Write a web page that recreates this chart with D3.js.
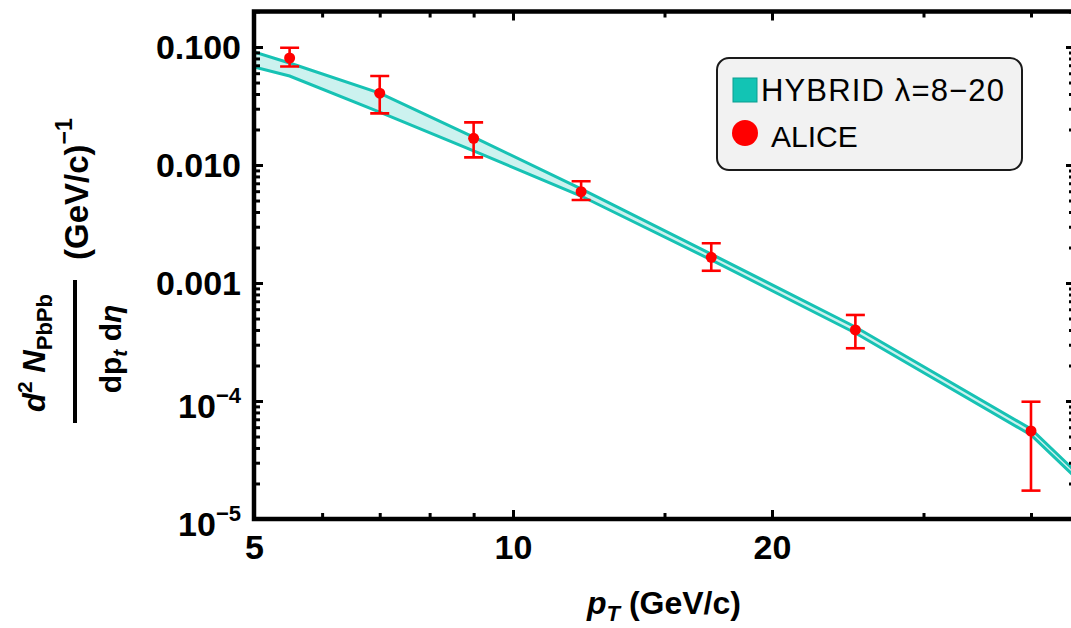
<!DOCTYPE html>
<html>
<head>
<meta charset="utf-8">
<script src="https://cdn.jsdelivr.net/npm/d3@7"></script>
<style>
  body { margin: 0; background: #ffffff; }
  svg { display: block; }
  text { font-family: "Liberation Sans", Arial, Helvetica, sans-serif; }
</style>
</head>
<body>
<svg id="chart" width="1071" height="628"></svg>
<script>
// HYBRID model band (lambda = 8-20): upper and lower edges at each pT node
const ptNodes     = [5, 5.5, 7, 9, 12, 17, 25, 40, 45];
const hybridUpper = [0.0907, 0.0732, 0.0407, 0.01726, 0.00627, 0.00176, 0.000424, 5.79e-5, 2.55e-5];
const hybridLower = [0.0677, 0.0568, 0.0281, 0.01315, 0.00546, 0.00157, 0.000377, 5.15e-5, 2.27e-5];

// ALICE measurement: bin centres, central values, error bar ends
const alicePt    = [5.5, 7, 9, 12, 17, 25, 40];
const aliceYield = [0.0807, 0.0406, 0.01683, 0.00594, 0.00165, 0.000400, 5.57e-5];
const aliceHigh  = [0.0987, 0.0568, 0.0230, 0.00728, 0.00217, 0.000536, 9.86e-5];
const aliceLow   = [0.0683, 0.0274, 0.01161, 0.00505, 0.00127, 0.000280, 1.74e-5];

// Axis ticks
const xMajorTicks  = [5, 10, 20];
const xTickLabels  = ["5", "10", "20"];
const xMinorTicks  = [6, 7, 8, 9, 15, 30, 40];
const yMajorTicks  = [0.1, 0.01, 0.001, 1e-4, 1e-5];
const yTickLabels  = [["0.100"], ["0.010"], ["0.001"], ["10", "\u22124"], ["10", "\u22125"]];

const legendLabels = ["HYBRID \u03bb=8\u221220", "ALICE"];

const bandStroke = "#17c2b4";
const bandFill   = "rgba(23,194,180,0.22)";
const dataRed    = "#ff0000";

const svg = d3.select("#chart");
const plot = { left: 254, top: 11.5, right: 1075, bottom: 519 };

const x = d3.scaleLog().domain([5, 45]).range([plot.left, plot.right]);
const y = d3.scaleLog().domain([1e-5, 0.2]).range([plot.bottom, plot.top]);

svg.append("clipPath").attr("id", "plot-clip")
  .append("rect")
  .attr("x", plot.left).attr("y", plot.top)
  .attr("width", plot.right - plot.left).attr("height", plot.bottom - plot.top);

// Model band
const bandData = ptNodes.map((p, i) => ({ p, hi: hybridUpper[i], lo: hybridLower[i] }));
const g = svg.append("g").attr("clip-path", "url(#plot-clip)");
g.append("path")
  .datum(bandData)
  .attr("d", d3.area().x(d => x(d.p)).y0(d => y(d.lo)).y1(d => y(d.hi)))
  .attr("fill", bandFill);
["hi", "lo"].forEach(k => {
  g.append("path")
    .datum(bandData)
    .attr("d", d3.line().x(d => x(d.p)).y(d => y(d[k])))
    .attr("fill", "none")
    .attr("stroke", bandStroke)
    .attr("stroke-width", 3);
});

// ALICE points with error bars
const alice = alicePt.map((p, i) => ({ p, v: aliceYield[i], hi: aliceHigh[i], lo: aliceLow[i] }));
const capHalf = 9.5;
const pts = g.selectAll("g.alice").data(alice).join("g").attr("class", "alice");
pts.append("line")
  .attr("x1", d => x(d.p)).attr("x2", d => x(d.p))
  .attr("y1", d => y(d.hi)).attr("y2", d => y(d.lo))
  .attr("stroke", dataRed).attr("stroke-width", 2.6);
pts.append("line")
  .attr("x1", d => x(d.p) - capHalf).attr("x2", d => x(d.p) + capHalf)
  .attr("y1", d => y(d.hi)).attr("y2", d => y(d.hi))
  .attr("stroke", dataRed).attr("stroke-width", 2.6);
pts.append("line")
  .attr("x1", d => x(d.p) - capHalf).attr("x2", d => x(d.p) + capHalf)
  .attr("y1", d => y(d.lo)).attr("y2", d => y(d.lo))
  .attr("stroke", dataRed).attr("stroke-width", 2.6);
pts.append("circle")
  .attr("cx", d => x(d.p)).attr("cy", d => y(d.v)).attr("r", 5.5)
  .attr("fill", dataRed);

// Minor y ticks: 2..9 within each decade
const yMinorTicks = [];
[1e-5, 1e-4, 1e-3, 1e-2, 1e-1].forEach(dec => {
  for (let k = 2; k <= 9; k++) if (k * dec <= 0.2 + 1e-12) yMinorTicks.push(k * dec);
});

function styleAxis(sel) {
  sel.select(".domain").remove();
  sel.selectAll(".tick line").attr("stroke", "#000").attr("stroke-width", 3);
}

const majorLen = 9, minorLen = 6;
const tickFont = 34;

// Left axis (ticks pointing inward)
const leftMajor = svg.append("g").attr("transform", `translate(${plot.left},0)`)
  .call(d3.axisLeft(y).tickValues(yMajorTicks).tickSizeInner(-majorLen).tickSizeOuter(0)
        .tickPadding(13).tickFormat(() => ""))
  .call(styleAxis);
leftMajor.selectAll(".tick text").each(function (d, i) {
  const t = d3.select(this)
    .attr("font-size", tickFont).attr("font-weight", "bold").attr("fill", "#000")
    .attr("dy", null).attr("y", 11.5);
  const parts = yTickLabels[i];
  if (parts.length === 1) {
    t.text(parts[0]);
  } else {
    t.attr("y", 16);
    t.append("tspan").text(parts[0]);
    t.append("tspan").attr("font-size", 22).attr("dy", -15).text(parts[1]);
  }
});
svg.append("g").attr("transform", `translate(${plot.left},0)`)
  .call(d3.axisLeft(y).tickValues(yMinorTicks).tickSizeInner(-minorLen).tickSizeOuter(0).tickFormat(() => ""))
  .call(styleAxis);

// Right axis
svg.append("g").attr("transform", `translate(${plot.right},0)`)
  .call(d3.axisRight(y).tickValues(yMajorTicks).tickSizeInner(-majorLen).tickSizeOuter(0).tickFormat(() => ""))
  .call(styleAxis);
svg.append("g").attr("transform", `translate(${plot.right},0)`)
  .call(d3.axisRight(y).tickValues(yMinorTicks).tickSizeInner(-minorLen).tickSizeOuter(0).tickFormat(() => ""))
  .call(styleAxis);

// Bottom axis
const bottomMajor = svg.append("g").attr("transform", `translate(0,${plot.bottom})`)
  .call(d3.axisBottom(x).tickValues(xMajorTicks).tickSizeInner(-majorLen).tickSizeOuter(0)
        .tickPadding(16).tickFormat((d, i) => xTickLabels[i]))
  .call(styleAxis);
bottomMajor.selectAll(".tick text")
  .attr("font-size", tickFont).attr("font-weight", "bold").attr("fill", "#000");
svg.append("g").attr("transform", `translate(0,${plot.bottom})`)
  .call(d3.axisBottom(x).tickValues(xMinorTicks).tickSizeInner(-minorLen).tickSizeOuter(0).tickFormat(() => ""))
  .call(styleAxis);

// Top axis
svg.append("g").attr("transform", `translate(0,${plot.top})`)
  .call(d3.axisTop(x).tickValues(xMajorTicks).tickSizeInner(-majorLen).tickSizeOuter(0).tickFormat(() => ""))
  .call(styleAxis);
svg.append("g").attr("transform", `translate(0,${plot.top})`)
  .call(d3.axisTop(x).tickValues(xMinorTicks).tickSizeInner(-minorLen).tickSizeOuter(0).tickFormat(() => ""))
  .call(styleAxis);

// Frame
svg.append("rect")
  .attr("x", plot.left).attr("y", plot.top)
  .attr("width", plot.right - plot.left).attr("height", plot.bottom - plot.top)
  .attr("fill", "none").attr("stroke", "#000").attr("stroke-width", 4.5);

// X axis title
const xt = svg.append("text")
  .attr("x", 664).attr("y", 614)
  .attr("text-anchor", "middle").attr("font-size", 32).attr("font-weight", "bold").attr("fill", "#000");
xt.append("tspan").attr("font-style", "italic").text("p");
xt.append("tspan").attr("font-style", "italic").attr("font-size", 22).attr("dy", 7).text("T");
xt.append("tspan").attr("dy", -7).text(" (GeV/c)");

// Y axis title: fraction with units
const yt = svg.append("g").attr("transform", "translate(75,351) rotate(-90)")
  .attr("font-weight", "bold").attr("fill", "#000");
yt.append("line").attr("x1", -72).attr("x2", 71).attr("y1", 0).attr("y2", 0)
  .attr("stroke", "#000").attr("stroke-width", 4);
const num = yt.append("text").attr("x", -2).attr("y", -30).attr("text-anchor", "middle").attr("font-size", 31);
num.append("tspan").attr("font-style", "italic").text("d");
num.append("tspan").attr("font-size", 21).attr("dy", -13).text("2");
num.append("tspan").attr("dy", 13).text(" ");
num.append("tspan").attr("font-style", "italic").text("N");
num.append("tspan").attr("font-size", 22).attr("dy", 7).text("PbPb");
const den = yt.append("text").attr("x", 2).attr("y", 46).attr("text-anchor", "middle").attr("font-size", 30);
den.append("tspan").text("dp");
den.append("tspan").attr("font-style", "italic").attr("font-size", 21).attr("dy", 6).text("t");
den.append("tspan").attr("dy", -6).text(" d");
den.append("tspan").attr("font-style", "italic").text("\u03b7");
const unit = yt.append("text").attr("x", 91).attr("y", 13).attr("font-size", 33);
unit.append("tspan").text("(GeV/c)");
unit.append("tspan").attr("font-size", 23).attr("dy", -16).text("\u22121");

// Legend
const lg = svg.append("g");
lg.append("rect").attr("x", 717).attr("y", 58).attr("width", 305).attr("height", 112).attr("rx", 12)
  .attr("fill", "#f2f2f2").attr("stroke", "#1a1a1a").attr("stroke-width", 2);
lg.append("rect").attr("x", 733).attr("y", 78).attr("width", 24).attr("height", 24)
  .attr("fill", "#12c4b4").attr("stroke", "#0b9d90").attr("stroke-width", 1);
lg.append("circle").attr("cx", 745).attr("cy", 133).attr("r", 13).attr("fill", dataRed);
lg.append("text").attr("x", 761).attr("y", 101).attr("font-size", 31).attr("fill", "#000")
  .attr("textLength", 243).attr("lengthAdjust", "spacing").text(legendLabels[0]);
lg.append("text").attr("x", 771).attr("y", 147).attr("font-size", 30).attr("fill", "#000").text(legendLabels[1]);
</script>
</body>
</html>
